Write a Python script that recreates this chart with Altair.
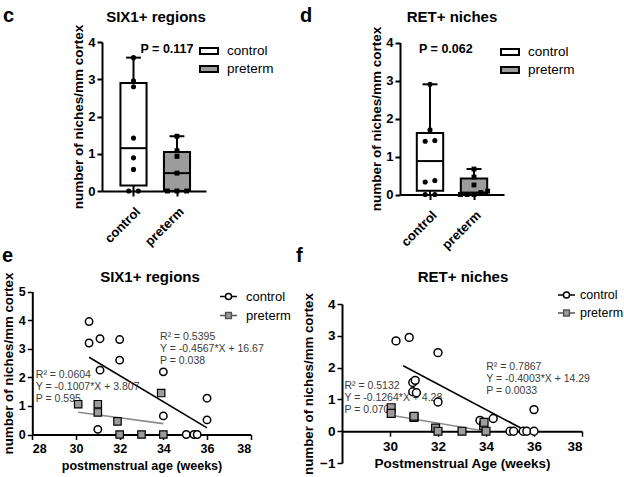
import altair as alt
import pandas as pd

FONT = "Liberation Sans"
GROUPS = ["control", "preterm"]

# ---------- panel c (SIX1+ regions, box) ----------
c_control = [0, 0, 0.58, 0.89, 1.42, 2.80, 2.96, 3.58]
c_preterm = [0, 0, 0, 0.48, 0.93, 1.08, 1.47]
# min, q1, median, q3, max
c_box_control = [0, 0.15, 1.15, 2.90, 3.58]
c_box_preterm = [0, 0, 0.48, 1.05, 1.47]
c_p_text = "P = 0.117"

# ---------- panel d (RET+ niches, box) ----------
d_control = [0, 0, 0.33, 0.37, 1.40, 1.42, 1.70, 2.90]
d_preterm = [0, 0, 0, 0.05, 0.09, 0.25, 0.46, 0.67]
d_box_control = [0, 0.10, 0.88, 1.62, 2.90]
d_box_preterm = [0, 0, 0.05, 0.42, 0.67]
d_p_text = "P = 0.062"

# ---------- panel e (SIX1+ regions vs age) ----------
e_control_x = [30.6, 30.6, 31.1, 31.1, 31.0, 32.0, 32.0, 34.0, 34.0, 35.05, 35.4, 35.55, 36.0, 36.0]
e_control_y = [3.95, 3.2, 3.35, 2.25, 0.18, 3.32, 2.6, 2.19, 0.65, 0, 0, 0, 1.27, 0.51]
e_preterm_x = [30.1, 31.0, 31.0, 31.9, 32.0, 33.0, 33.9, 34.0]
e_preterm_y = [1.06, 1.06, 0.77, 0.46, 0, 0, 1.45, 0]
e_fit_control_x = [30.6, 36.0]
e_fit_control_y = [2.70, 0.23]
e_fit_preterm_x = [30.1, 34.0]
e_fit_preterm_y = [0.78, 0.38]
e_stats_control = "R² = 0.5395\nY = -0.4567*X + 16.67\nP = 0.038"
e_stats_preterm = "R² = 0.0604\nY = -0.1007*X + 3.807\nP = 0.595"

# ---------- panel f (RET+ niches vs age) ----------
f_control_x = [30.25, 30.8, 32.0, 30.95, 31.05, 30.95, 31.1, 32.0, 33.75, 34.3, 35.0, 35.15, 35.55, 35.7, 36.0, 36.0]
f_control_y = [2.84, 2.95, 2.47, 1.53, 1.6, 1.24, 1.21, 0.92, 0.34, 0.4, 0, 0, 0, 0, 0.68, 0]
f_preterm_x = [30.05, 30.05, 31.0, 31.0, 31.9, 32.0, 33.0, 33.9, 33.92, 34.0]
f_preterm_y = [0.74, 0.56, 0.43, 0.47, 0.1, 0, 0, 0.17, 0.28, 0]
f_fit_control_x = [30.55, 35.65]
f_fit_control_y = [2.06, 0.02]
f_fit_preterm_x = [30.05, 34.0]
f_fit_preterm_y = [0.50, 0.0]
f_stats_control = "R² = 0.7867\nY = -0.4003*X + 14.29\nP = 0.0033"
f_stats_preterm = "R² = 0.5132\nY = -0.1264*X + 4.28\nP = 0.070"

Y_TITLE = "number of niches/mm cortex"
GRAY = "#9c9c9c"


def axis_style(**kw):
    base = dict(grid=False, domainColor="black", domainWidth=2, tickColor="black",
                tickWidth=2, tickSize=5, labelColor="black", labelFont=FONT,
                labelFontWeight="bold", titleFont=FONT, titleFontWeight="bold",
                titleColor="black")
    base.update(kw)
    return alt.Axis(**base)


def jitter(vals, gap=0.06, step=0.22):
    order = sorted(range(len(vals)), key=lambda i: vals[i])
    offs = [0.0] * len(vals)
    clusters, cur = [], [order[0]]
    for i in order[1:]:
        if vals[i] - vals[cur[-1]] <= gap:
            cur.append(i)
        else:
            clusters.append(cur)
            cur = [i]
    clusters.append(cur)
    for cl in clusters:
        k = len(cl)
        st = step if k < 2 else min(step, 0.62 / (k - 1))
        for j, i in enumerate(cl):
            offs[i] = (j - (k - 1) / 2) * st
    return offs


def box_panel(ctrl, pre, bc, bp, xr, yr, xdom, x_off, y_off, title_pad,
              p_text, p_pos, leg_xy):
    sx = alt.Scale(domain=xdom, range=xr, nice=False, zero=False)
    sy = alt.Scale(domain=[0, 4], range=yr, nice=False, zero=False)
    fill_scale = alt.Scale(domain=GROUPS, range=["white", GRAY])
    stats = pd.DataFrame({
        "group": GROUPS, "pos": [0, 1],
        "mn": [bc[0], bp[0]], "q1": [bc[1], bp[1]], "med": [bc[2], bp[2]],
        "q3": [bc[3], bp[3]], "mx": [bc[4], bp[4]],
    })
    jc, jp = jitter(ctrl), jitter(pre)
    pts_c = pd.DataFrame({"v": ctrl, "xp": [0 + o for o in jc]})
    pts_p = pd.DataFrame({"v": pre, "xp": [1 + o for o in jp]})
    xa = axis_style(orient="bottom", offset=x_off, values=[0, 1],
                    labelExpr="datum.value == 0 ? 'control' : 'preterm'",
                    labelAngle=-45, labelFontSize=13, labelPadding=9, title=None)
    ya = axis_style(orient="left", offset=y_off, values=[0, 1, 2, 3, 4],
                    labelFontSize=13, labelPadding=2, title=Y_TITLE,
                    titleFontSize=13.5, titlePadding=title_pad)
    X = lambda f: alt.X(f, scale=sx, axis=xa, title=None)
    Y = lambda f: alt.Y(f, scale=sy, axis=ya, title=Y_TITLE)
    rect_path = "M-1,-0.32H1V0.32H-1Z"
    legend = alt.Legend(
        orient="none", legendX=leg_xy[0], legendY=leg_xy[1], title=None,
        symbolType=rect_path, symbolSize=324, symbolStrokeColor="black",
        symbolStrokeWidth=2, symbolOpacity=1,
        labelFont=FONT, labelFontSize=13.5,
        labelColor="black", labelOffset=8, rowPadding=1, padding=0)
    whisk = alt.Chart(stats).mark_rule(color="black", strokeWidth=2).encode(
        x=X("pos:Q"), y=Y("mn:Q"), y2="mx:Q")
    caps = alt.Chart(stats).transform_calculate(
        cl="datum.pos - 0.17", cr="datum.pos + 0.17"
    ).mark_rule(color="black", strokeWidth=2).encode(
        x=X("cl:Q"), x2="cr:Q", y=Y("mx:Q"))
    box = alt.Chart(stats).transform_calculate(
        bl="datum.pos - 0.3", br="datum.pos + 0.3"
    ).mark_rect(stroke="black", strokeWidth=2, opacity=1).encode(
        x=X("bl:Q"), x2="br:Q", y=Y("q1:Q"), y2="q3:Q",
        fill=alt.Fill("group:N", scale=fill_scale, legend=legend))
    med = alt.Chart(stats).transform_calculate(
        bl="datum.pos - 0.3", br="datum.pos + 0.3"
    ).mark_rule(color="black", strokeWidth=2).encode(
        x=X("bl:Q"), x2="br:Q", y=Y("med:Q"))
    dots_c = alt.Chart(pts_c).mark_point(shape="circle", filled=True, color="black",
                                         size=26, opacity=1).encode(x=X("xp:Q"), y=Y("v:Q"))
    dots_p = alt.Chart(pts_p).mark_point(shape="square", filled=True, color="black",
                                         size=24, opacity=1).encode(x=X("xp:Q"), y=Y("v:Q"))
    ptxt = alt.Chart(pd.DataFrame({"t": [p_text], "x": [p_pos[0]], "y": [p_pos[1]]})).mark_text(
        font=FONT, fontSize=12.5, fontWeight="bold", color="black", align="center", baseline="alphabetic"
    ).encode(x=X("x:Q"), y=Y("y:Q"), text="t:N")
    return alt.layer(whisk, box, med, caps, dots_c, dots_p, ptxt)


def scatter_panel(cx, cy, px, py, fcx, fcy, fpx, fpy, sc, sp, xr, yr, ydom, yvals,
                  xvals, x_off, y_off, xtitle, tick_fs, xt_fs, title_pad,
                  sc_pos, sp_pos, leg_xy, leg_fs, leg_off, psize):
    sx = alt.Scale(domain=[28, 38], range=xr, nice=False, zero=False)
    sy = alt.Scale(domain=ydom, range=yr, nice=False, zero=False)
    xa = axis_style(orient="bottom", offset=x_off, values=xvals, labelFontSize=tick_fs,
                    labelPadding=3, title=xtitle, titleFontSize=xt_fs, titlePadding=4,
                    tickWidth=1.5, domainWidth=2)
    ya = axis_style(orient="left", offset=y_off, values=yvals, labelFontSize=tick_fs,
                    labelPadding=2, title=Y_TITLE, titleFontSize=13.3,
                    titlePadding=title_pad, tickWidth=1.5)
    X = lambda f: alt.X(f, scale=sx, axis=xa, title=xtitle)
    Y = lambda f: alt.Y(f, scale=sy, axis=ya, title=Y_TITLE)
    fc = pd.DataFrame({"x": fcx, "y": fcy})
    fp = pd.DataFrame({"x": fpx, "y": fpy})
    ann = pd.DataFrame({"t": [sc, sp], "x": [sc_pos[0], sp_pos[0]], "y": [sc_pos[1], sp_pos[1]]})
    line_c = alt.Chart(fc).mark_line(color="black", strokeWidth=1.6).encode(x=X("x:Q"), y=Y("y:Q"))
    line_p = alt.Chart(fp).mark_line(color="#8c8c8c", strokeWidth=1.6).encode(x=X("x:Q"), y=Y("y:Q"))
    txt = alt.Chart(ann).mark_text(
        font=FONT, fontSize=10.5, color="#3c3c3c", align="left", baseline="top",
        lineBreak="\n", lineHeight=12
    ).encode(x=X("x:Q"), y=Y("y:Q"), text="t:N")
    pc = alt.Chart(pd.DataFrame({"x": cx, "y": cy})).mark_point(
        shape="circle", fill="white", stroke="black", strokeWidth=1.5, size=psize, opacity=1
    ).encode(x=X("x:Q"), y=Y("y:Q"))
    pp = alt.Chart(pd.DataFrame({"x": px, "y": py})).mark_point(
        shape="square", fill=GRAY, stroke="black", strokeWidth=1.2, size=psize, opacity=1
    ).encode(x=X("x:Q"), y=Y("y:Q"))
    path_c = "M-1,0H-0.36M0.36,0H1M-0.36,0A0.36,0.36 0 1,1 0.36,0A0.36,0.36 0 1,1 -0.36,0Z"
    path_p = "M-1,0H-0.34M0.34,0H1M-0.34,-0.34H0.34V0.34H-0.34Z"
    legend = alt.Legend(orient="none", legendX=leg_xy[0], legendY=leg_xy[1], title=None,
                        symbolSize=289, symbolStrokeWidth=1.5, symbolOpacity=1,
                        labelFont=FONT, labelFontSize=leg_fs, labelColor="black",
                        labelOffset=leg_off, rowPadding=2, padding=0)
    leg_df = pd.DataFrame({"group": GROUPS})
    leg = alt.Chart(leg_df).transform_filter("false").mark_point(
        size=289, strokeWidth=1.5, opacity=1
    ).encode(
        shape=alt.Shape("group:N", scale=alt.Scale(domain=GROUPS, range=[path_c, path_p]), legend=legend),
        fill=alt.Fill("group:N", scale=alt.Scale(domain=GROUPS, range=["white", GRAY]), legend=legend),
        stroke=alt.Stroke("group:N", scale=alt.Scale(domain=GROUPS, range=["black", "#555555"]), legend=legend),
    )
    return alt.layer(line_c, line_p, txt, pc, pp, leg)


panel_c = box_panel(c_control, c_preterm, c_box_control, c_box_preterm,
                    xr=[102, 206], yr=[191, 42], xdom=[-0.7241, 1.6667],
                    x_off=191 - 477, y_off=-102, title_pad=2,
                    p_text=c_p_text, p_pos=[0.77, 3.70], leg_xy=[199, 41])
panel_d = box_panel(d_control, d_preterm, d_box_control, d_box_preterm,
                    xr=[400, 504], yr=[194.5, 42.5], xdom=[-0.6818, 1.6818],
                    x_off=194.5 - 477, y_off=-400, title_pad=2,
                    p_text=d_p_text, p_pos=[0.36, 3.72], leg_xy=[500, 42])
panel_e = scatter_panel(e_control_x, e_control_y, e_preterm_x, e_preterm_y,
                        e_fit_control_x, e_fit_control_y, e_fit_preterm_x, e_fit_preterm_y,
                        e_stats_control, e_stats_preterm,
                        xr=[32.3, 250.7], yr=[434.5, 291.5], ydom=[0, 5],
                        yvals=[0, 1, 2, 3, 4, 5], xvals=[28, 30, 32, 34, 36, 38],
                        x_off=434.5 - 477, y_off=-32.3,
                        xtitle="postmenstrual age (weeks)", tick_fs=12.5, xt_fs=12.5,
                        title_pad=3, sc_pos=[33.85, 3.58], sp_pos=[28.16, 2.27],
                        leg_xy=[219, 287], leg_fs=13, leg_off=8, psize=55)
panel_f = scatter_panel(f_control_x, f_control_y, f_preterm_x, f_preterm_y,
                        f_fit_control_x, f_fit_control_y, f_fit_preterm_x, f_fit_preterm_y,
                        f_stats_control, f_stats_preterm,
                        xr=[342, 582], yr=[463, 304], ydom=[-1, 4],
                        yvals=[-1, 0, 1, 2, 3, 4], xvals=[30, 32, 34, 36, 38],
                        x_off=431.2 - 477, y_off=-342,
                        xtitle="Postmenstrual Age (weeks)", tick_fs=13.5, xt_fs=13.5,
                        title_pad=4, sc_pos=[34.01, 2.18], sp_pos=[28.1, 1.57],
                        leg_xy=[557, 285.5], leg_fs=12.5, leg_off=4, psize=62)

one = pd.DataFrame({"a": [0]})


def label(text, x, y, size, align="left"):
    return alt.Chart(one).mark_text(
        text=text, font=FONT, fontSize=size, fontWeight="bold", color="black",
        align=align, baseline="alphabetic"
    ).encode(x=alt.value(x), y=alt.value(y))


texts = [
    label("c", 3, 22, 20), label("d", 300, 22, 20),
    label("e", 2, 262, 20), label("f", 296, 262, 20),
    label("SIX1+ regions", 156, 21.5, 15, "center"),
    label("RET+ niches", 452, 21.5, 15, "center"),
    label("SIX1+ regions", 150, 282, 15, "center"),
    label("RET+ niches", 463, 282, 15, "center"),
]

chart = alt.layer(panel_c, panel_d, panel_e, panel_f, *texts).resolve_scale(
    x="independent", y="independent", fill="independent",
    shape="independent", stroke="independent"
).resolve_axis(x="independent", y="independent").resolve_legend(
    fill="independent", shape="independent", stroke="independent"
).properties(
    width=624, height=477, autosize=alt.AutoSizeParams(type="none"), padding=0,
    background="white"
).configure_view(stroke=None)

chart.save("out.html", embed_options={"renderer": "svg", "actions": False})
